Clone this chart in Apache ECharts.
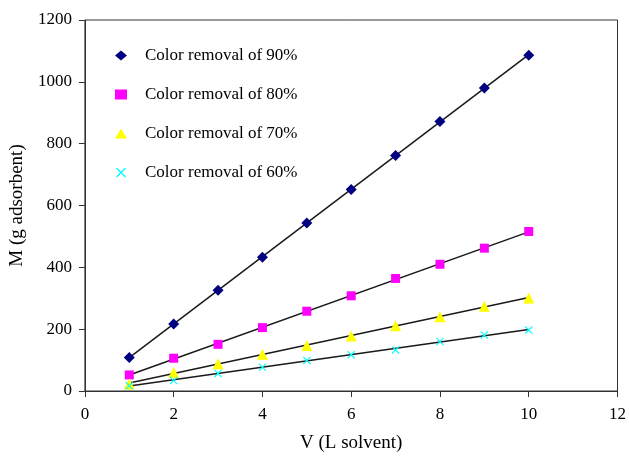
<!DOCTYPE html>
<html>
<head>
<meta charset="utf-8">
<script src="https://cdn.jsdelivr.net/npm/echarts@6/dist/echarts.min.js"></script>
<style>html,body{margin:0;padding:0;background:#fff;}#c{width:629px;height:458px;}</style>
</head>
<body>
<div id="c"></div>
<script>
var volumes = [1, 2, 3, 4, 5, 6, 7, 8, 9, 10];
var removal90 = [108, 217, 326, 433, 543, 652, 762, 872, 980, 1086];
var removal80 = [52, 106, 151, 205, 258, 308, 364, 410, 462, 516];
var removal70 = [23, 60, 88, 119, 147, 178, 211, 240, 274, 301];
var removal60 = [17, 34, 57, 77, 99, 117, 133, 160, 181, 197];
var seriesNames = ['Color removal of 90%', 'Color removal of 80%', 'Color removal of 70%', 'Color removal of 60%'];
var xTicks = [0, 2, 4, 6, 8, 10, 12];
var yTicks = [0, 200, 400, 600, 800, 1000, 1200];

var font = '"Liberation Serif", "Times New Roman", serif';
var crossPath = 'path://M0,1 L1,0 L5,4 L9,0 L10,1 L6,5 L10,9 L9,10 L5,6 L1,10 L0,9 L4,5 Z';

function pairs(ys) { return volumes.map(function (v, i) { return [v, ys[i]]; }); }
function fitLine(ys) {
  var n = volumes.length, sx = 0, sy = 0, sxx = 0, sxy = 0;
  for (var i = 0; i < n; i++) { sx += volumes[i]; sy += ys[i]; sxx += volumes[i] * volumes[i]; sxy += volumes[i] * ys[i]; }
  var b = (n * sxy - sx * sy) / (n * sxx - sx * sx);
  var a = (sy - b * sx) / n;
  var x0 = volumes[0], x1 = volumes[n - 1];
  return [[x0, a + b * x0], [x1, a + b * x1]];
}

var all = [removal90, removal80, removal70, removal60];
var styles = [
  { symbol: 'diamond', size: 11, color: '#000080' },
  { symbol: 'rect', size: 9, color: '#FF00FF' },
  { symbol: 'triangle', size: 11, color: '#FFFF00' },
  { symbol: crossPath, size: 8, color: '#00FFFF' }
];

var series = [];
all.forEach(function (ys, k) {
  series.push({
    type: 'line', data: fitLine(ys), showSymbol: false, silent: true,
    lineStyle: { color: '#1a1a1a', width: 1.5 }, z: 2, animation: false
  });
});
all.forEach(function (ys, k) {
  series.push({
    name: seriesNames[k], type: 'scatter', data: pairs(ys),
    symbol: styles[k].symbol, symbolSize: styles[k].size,
    itemStyle: { color: styles[k].color, opacity: 1 }, z: 3, animation: false
  });
});

var chart = echarts.init(document.getElementById('c'));
chart.setOption({
  backgroundColor: '#fff',
  animation: false,
  grid: { left: 84, right: 11, top: 20, bottom: 63, show: true, borderColor: '#333', borderWidth: 1 },
  legend: {
    data: seriesNames, orient: 'vertical', left: 110, top: 42, itemGap: 22,
    itemWidth: 12, itemHeight: 10,
    textStyle: { fontFamily: font, fontSize: 17, color: '#000', padding: [0, 0, 0, 13] }
  },
  xAxis: {
    type: 'value', min: 0, max: 12, interval: 2,
    name: 'V (L solvent)', nameLocation: 'middle', nameGap: 43,
    nameTextStyle: { fontFamily: font, fontSize: 19, color: '#000' },
    axisLine: { lineStyle: { color: '#333', width: 1 } },
    axisTick: { show: true, length: 6, lineStyle: { color: '#333' } },
    axisLabel: { fontFamily: font, fontSize: 17, color: '#000', margin: 15,
      formatter: function (v) { return xTicks.indexOf(v) >= 0 ? String(v) : ''; } },
    splitLine: { show: false }
  },
  yAxis: {
    type: 'value', min: 0, max: 1200, interval: 200,
    name: 'M (g adsorbent)', nameLocation: 'middle', nameGap: 50,
    nameTextStyle: { fontFamily: font, fontSize: 19, color: '#000' },
    axisLine: { show: true, lineStyle: { color: '#333', width: 1 } },
    axisTick: { show: true, length: 6, lineStyle: { color: '#333' } },
    axisLabel: { fontFamily: font, fontSize: 17, color: '#000', margin: 13,
      formatter: function (v) { return yTicks.indexOf(v) >= 0 ? String(v) : ''; } },
    splitLine: { show: false }
  },
  series: series
});
</script>
</body>
</html>
